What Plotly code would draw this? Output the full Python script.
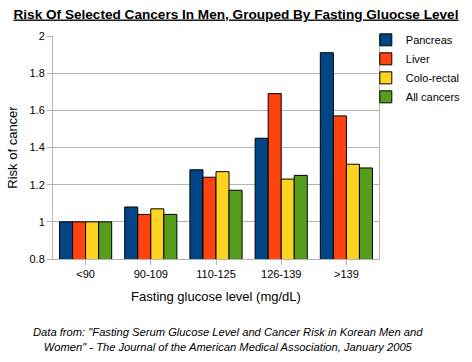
import plotly.graph_objects as go

categories = ["<90", "90-109", "110-125", "126-139", ">139"]
pancreas = [1.00, 1.08, 1.28, 1.45, 1.91]
liver = [1.00, 1.04, 1.24, 1.69, 1.57]
colorectal = [1.00, 1.07, 1.27, 1.23, 1.31]
all_cancers = [1.00, 1.04, 1.17, 1.25, 1.29]
series_names = ["Pancreas", "Liver", "Colo-rectal", "All cancers"]
colors = ["#004586", "#ff420e", "#ffd320", "#579d1c"]

fig = go.Figure()
for name, vals, col in zip(series_names, [pancreas, liver, colorectal, all_cancers], colors):
    fig.add_trace(go.Bar(x=categories, y=vals, name=name,
                         marker=dict(color=col, line=dict(color="black", width=1)),
                         base=0))

font = "Liberation Sans, Arial, sans-serif"
fig.update_layout(
    width=472, height=362,
    margin=dict(l=53, r=93, t=36, b=103, autoexpand=False),
    paper_bgcolor="white", plot_bgcolor="white",
    barmode="group", bargap=0.2, bargroupgap=0,
    font=dict(family=font, size=11, color="black"),
    showlegend=True,
    legend=dict(xref="container", yref="container", x=0.775, y=0.93,
                xanchor="left", yanchor="top",
                font=dict(size=11), tracegroupgap=0, itemwidth=30,
                bgcolor="rgba(0,0,0,0)"),
    title=dict(text="<b><u>Risk Of Selected Cancers In Men, Grouped By Fasting Gluocse Level</u></b>",
               x=0.5, xref="container", xanchor="center", y=0.962, yanchor="middle",
               font=dict(size=13.6, family=font)),
)
fig.update_xaxes(showline=True, linecolor="#b3b3b3", linewidth=1, mirror=False,
                 ticks="outside", ticklen=5, tickcolor="#b3b3b3",
                 tickfont=dict(size=11), automargin=False,
                 title=dict(text="Fasting glucose level (mg/dL)", font=dict(size=13), standoff=12))
fig.update_yaxes(range=[0.8, 2.0], dtick=0.2, showgrid=True, gridcolor="#b3b3b3",
                 showline=True, linecolor="#b3b3b3", mirror=True,
                 ticks="outside", ticklen=5, tickcolor="#b3b3b3",
                 tickfont=dict(size=11), tickformat="~g", automargin=False,
                 title=dict(text="Risk of cancer", font=dict(size=13), standoff=8))
fig.add_annotation(text="<i>Data from: \"Fasting Serum Glucose Level and Cancer Risk in Korean Men and<br>Women\" - The Journal of the American Medical Association, January 2005</i>",
                   xref="paper", yref="paper", x=0.537, y=-0.291, xanchor="center", yanchor="top",
                   showarrow=False, align="center", font=dict(size=11.2, family=font))

fig.write_html("out.html", config={"displayModeBar": False},
               post_script="document.body.style.margin='0';document.body.style.overflow='hidden';")
